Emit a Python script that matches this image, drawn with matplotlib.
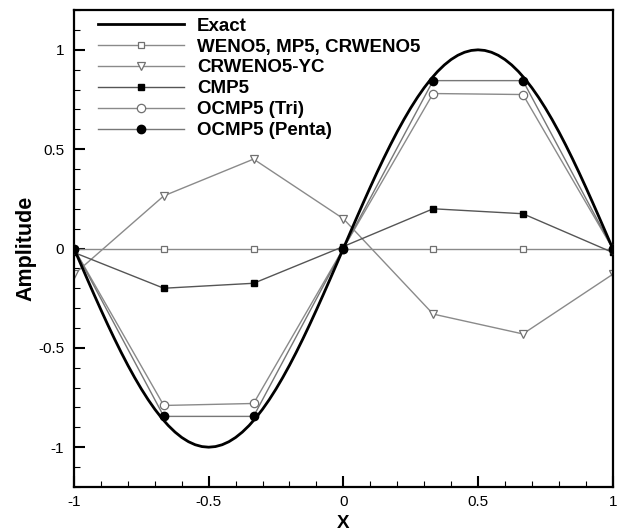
import matplotlib
matplotlib.use("Agg")
import matplotlib.pyplot as plt
from matplotlib.ticker import MultipleLocator

plt.rcParams['font.family'] = ['Liberation Sans', 'DejaVu Sans']

# exact solution, sampled every 0.025 on [0, 0.5]; the rest follows by symmetry
exact_quarter = [0.0, 0.0785, 0.1564, 0.2334, 0.3090, 0.3827, 0.4540, 0.5225,
                 0.5878, 0.6494, 0.7071, 0.7604, 0.8090, 0.8526, 0.8910, 0.9239,
                 0.9511, 0.9724, 0.9877, 0.9969, 1.0]
exact_pos = exact_quarter + exact_quarter[::-1][1:]
y_exact = [-v for v in exact_pos] + exact_pos[1:]
x_exact = [i * 0.025 - 1.0 for i in range(len(y_exact))]

# grid points
x_pts = [-1.0, -2/3, -1/3, 0.0, 1/3, 2/3, 1.0]
weno = [0.0, 0.0, 0.0, 0.0, 0.0, 0.0, 0.0]
crweno_yc = [-0.13, 0.265, 0.45, 0.15, -0.33, -0.43, -0.13]
cmp5 = [-0.02, -0.2, -0.175, 0.01, 0.2, 0.175, -0.02]
ocmp5_tri = [0.0, -0.79, -0.78, 0.0, 0.78, 0.775, 0.0]
ocmp5_penta = [0.0, -0.845, -0.845, 0.0, 0.845, 0.845, 0.0]

fig = plt.figure(figsize=(6.22, 5.31), dpi=100)
ax = fig.add_axes([0.119, 0.083, 0.866, 0.898])

ax.plot(x_exact, y_exact, color='black', lw=2.0, label='Exact', zorder=5)
ax.plot(x_pts, weno, color='#8a8a8a', lw=1.0, marker='s', ms=5,
        mfc='white', mec='#707070', mew=0.9, label='WENO5, MP5, CRWENO5', zorder=2)
ax.plot(x_pts, crweno_yc, color='#8a8a8a', lw=1.0, marker='v', ms=6,
        mfc='white', mec='#707070', mew=0.9, label='CRWENO5-YC', zorder=2)
ax.plot(x_pts, cmp5, color='#555555', lw=1.0, marker='s', ms=5,
        mfc='black', mec='black', label='CMP5', zorder=3)
ax.plot(x_pts, ocmp5_tri, color='#8a8a8a', lw=1.0, marker='o', ms=6,
        mfc='white', mec='#707070', mew=0.9, label='OCMP5 (Tri)', zorder=3)
ax.plot(x_pts, ocmp5_penta, color='#777777', lw=1.0, marker='o', ms=6,
        mfc='black', mec='black', label='OCMP5 (Penta)', zorder=4)

ax.set_xlim(-1, 1)
ax.set_ylim(-1.2, 1.2)
ax.xaxis.set_minor_locator(MultipleLocator(0.1))
ax.yaxis.set_minor_locator(MultipleLocator(0.1))
ax.set_xticks([-1, -0.5, 0, 0.5, 1])
ax.set_xticklabels(['-1', '-0.5', '0', '0.5', '1'])
ax.set_yticks([-1, -0.5, 0, 0.5, 1])
ax.set_yticklabels(['-1', '-0.5', '0', '0.5', '1'])

ax.tick_params(which='major', direction='in', length=8, width=1.5, labelsize=11)
ax.tick_params(axis='y', which='major', pad=7)
ax.tick_params(axis='x', which='major', pad=6)
ax.tick_params(which='minor', direction='in', length=4, width=0.8)
for sp in ax.spines.values():
    sp.set_linewidth(1.6)

ax.set_xlabel('X', fontsize=13.5, fontweight='bold', labelpad=4)
ax.set_ylabel('Amplitude', fontsize=15.5, fontweight='bold', labelpad=1)

leg = ax.legend(loc='upper left', frameon=False, handlelength=4.6,
                prop={'weight': 'bold', 'size': 13.5}, labelspacing=0.2,
                borderaxespad=0.0, handletextpad=0.7, bbox_to_anchor=(0.03, 1.0))

fig.savefig('out.png', dpi=100)
